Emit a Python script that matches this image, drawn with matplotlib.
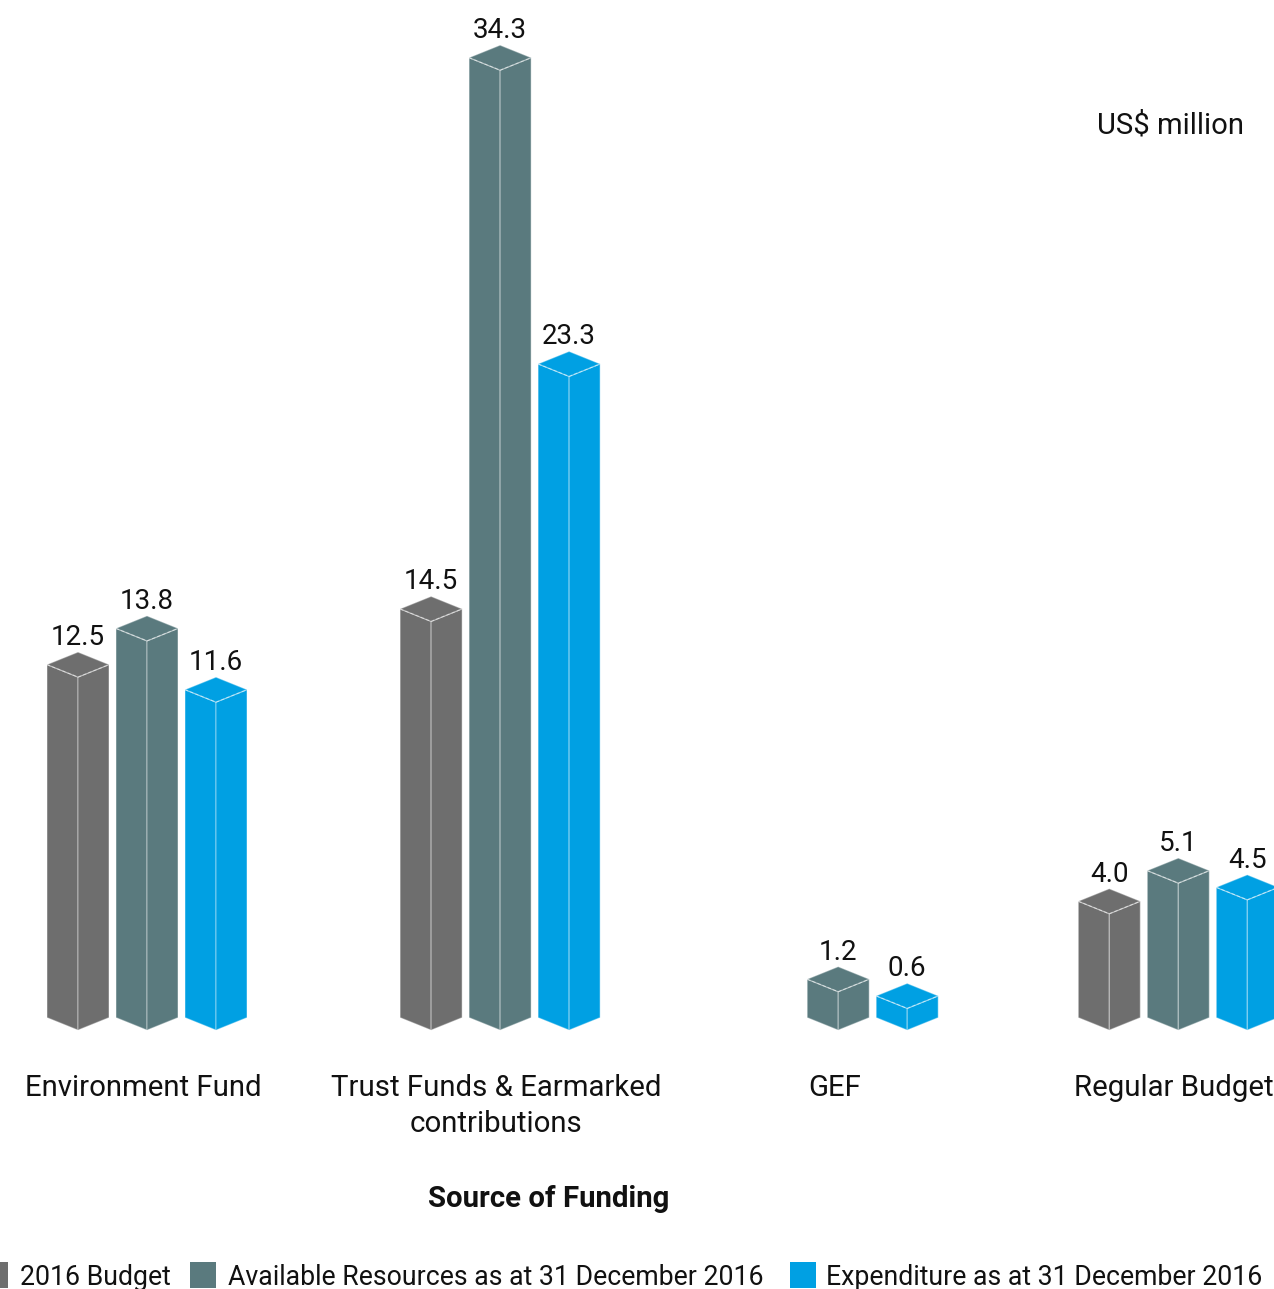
import numpy as np
import matplotlib
matplotlib.use("Agg")
import matplotlib.pyplot as plt
from matplotlib.patches import Polygon, Rectangle

plt.rcParams['font.family'] = ['Roboto', 'DejaVu Sans']

# --- data -------------------------------------------------------------
categories = ["Environment Fund", "Trust Funds & Earmarked\ncontributions", "GEF", "Regular Budget"]
series_names = ["2016 Budget", "Available Resources as at 31 December 2016",
                "Expenditure as at 31 December 2016"]
budget_2016 = [12.5, 14.5, np.nan, 4.0]
available = [13.8, 34.3, 1.2, 5.1]
expenditure = [11.6, 23.3, 0.6, 4.5]
series_values = [budget_2016, available, expenditure]

# --- style ------------------------------------------------------------
colors = ["#6e6e6e", "#5a7a7e", "#00a0e3"]
edge_rgba = (1, 1, 1, 0.35)

W, H = 1274, 1289
fig = plt.figure(figsize=(W / 100, H / 100), dpi=100)
ax = fig.add_axes([0, 0, 1, 1])

# scales: one category step and one value unit expressed in pixels
px_per_cat = 343.1
px_per_val = 27.84
x0_px = 151.0          # centre of first group
y0_px = 1025.1         # pixel row of value zero (front edge)
ax.set_xlim(-x0_px / px_per_cat, (W - x0_px) / px_per_cat)
ax.set_ylim(-(H - y0_px) / px_per_val, y0_px / px_per_val)
ax.axis("off")

# small per-group nudges (px) of the group slots
group_nudge_px = [-4, 6, 1, -2]


def row(p):
    """pixel row (from top) -> value units"""
    return (y0_px - p) / px_per_val


def col(p):
    """pixel column -> category units"""
    return (p - x0_px) / px_per_cat


bar_step = 69 / px_per_cat
half_w = 31 / px_per_cat
depth = 12.5 / px_per_val
base = -5 / px_per_val

for s, (vals, c) in enumerate(zip(series_values, colors)):
    for i, v in enumerate(vals):
        if np.isnan(v):
            continue
        cx = i + group_nudge_px[i] / px_per_cat + (s - 1) * bar_step
        yt, yb = v, base
        left = [(cx - half_w, yb + depth), (cx, yb), (cx, yt), (cx - half_w, yt + depth)]
        right = [(cx + half_w, yb + depth), (cx, yb), (cx, yt), (cx + half_w, yt + depth)]
        top = [(cx, yt), (cx - half_w, yt + depth), (cx, yt + 2 * depth), (cx + half_w, yt + depth)]
        for pts in (left, right, top):
            ax.add_patch(Polygon(pts, closed=True, facecolor=c,
                                 edgecolor=edge_rgba, linewidth=0.9, joinstyle="miter"))
        # inner edges of the top face
        ax.plot([cx - half_w, cx, cx + half_w], [yt + depth, yt, yt + depth],
                color=(1, 1, 1, 0.45), lw=0.8, ls=(0, (3, 2)))
        ax.text(cx, yt + 2 * depth + 7 / px_per_val, f"{v:.1f}",
                ha="center", va="baseline", fontsize=20, color="#111111")

# category labels, one baseline per line
for i, name in enumerate(categories):
    xc = i + (group_nudge_px[i] - 4) / px_per_cat
    for k, line in enumerate(name.split("\n")):
        ax.text(xc, row(1096 + 36 * k), line, ha="center",
                va="baseline", fontsize=21.2, color="#111111")

ax.text(col(549), row(1207), "Source of Funding",
        ha="center", va="baseline", fontsize=21.2, fontweight="bold", color="#111111")

fig.text(1244 / W, 1 - 133 / H, "US$ million", ha="right", va="baseline",
         fontsize=21.1, color="#111111")

# legend row
swatches = [(-18, 20), (190, 228), (790, 826)]
for (sx, tx), name, c in zip(swatches, series_names, colors):
    fig.patches.append(Rectangle((sx / W, 1 - 1288 / H), 26 / W, 26 / H,
                                 transform=fig.transFigure, facecolor=c,
                                 edgecolor="none"))
    fig.text(tx / W, 1 - 1285 / H, name, ha="left", va="baseline",
             fontsize=19.2, color="#111111")

fig.savefig("out.png", dpi=100)
